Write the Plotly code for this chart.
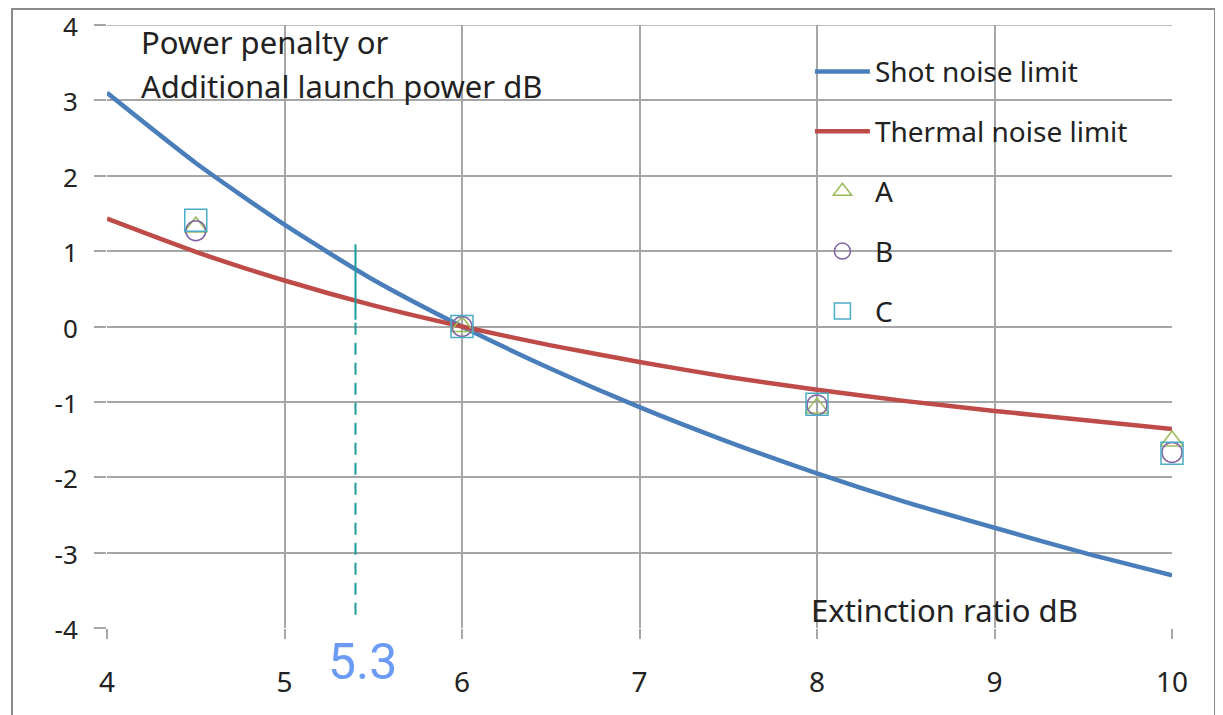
import plotly.graph_objects as go

# ---- data ----
x_curve = [4, 4.5, 5, 5.5, 6, 6.5, 7, 7.5, 8, 8.5, 9, 9.5, 10]
shot_noise = [3.10, 2.17, 1.35, 0.62, 0.0, -0.56, -1.07, -1.53, -1.95, -2.33, -2.67, -3.00, -3.30]
thermal_noise = [1.43, 0.99, 0.61, 0.28, 0.0, -0.25, -0.47, -0.67, -0.84, -0.99, -1.12, -1.24, -1.36]

x_meas = [4.5, 6, 8, 10]
meas_A = [1.32, 0.0, -1.08, -1.52]
meas_B = [1.27, 0.0, -1.04, -1.67]
meas_C = [1.41, 0.0, -1.03, -1.68]

marker_x = 5.4
marker_solid_y = [1.09, 0.09]
marker_dash_y = [0.05, -3.88]
marker_label = "5.3"

x_range = [4, 10]
y_range = [-4, 4]
x_ticks = [4, 5, 6, 7, 8, 9, 10]
x_ticktext = ["4", "5", "6", "7", "8", "9", "10"]
y_ticks = [-4, -3, -2, -1, 0, 1, 2, 3, 4]
y_ticktext = ["-4", "-3", "-2", "-1", "0", "1", "2", "3", "4"]

FONT = "Noto Sans"
GRID = "#a6a6a6"
TXT = "#222222"

fig = go.Figure()
fig.add_trace(go.Scatter(x=x_curve, y=shot_noise, mode="lines", name="Shot noise limit",
                         line=dict(color="#4a7ebb", width=4.5, shape="spline", smoothing=0.6),
                         legendgroup="g1"))
fig.add_trace(go.Scatter(x=x_curve, y=thermal_noise, mode="lines", name="Thermal noise limit",
                         line=dict(color="#be4b48", width=4.5, shape="spline", smoothing=0.6),
                         legendgroup="g2"))
fig.add_trace(go.Scatter(x=x_meas, y=meas_A, mode="markers", name="A", cliponaxis=False,
                         marker=dict(symbol="triangle-up-open", size=20, color="#9bbb59",
                                     line=dict(width=1.5)), legendgroup="g3"))
fig.add_trace(go.Scatter(x=x_meas, y=meas_B, mode="markers", name="B", cliponaxis=False,
                         marker=dict(symbol="circle-open", size=20, color="#8064a2",
                                     line=dict(width=1.5)), legendgroup="g4"))
fig.add_trace(go.Scatter(x=x_meas, y=meas_C, mode="markers", name="C", cliponaxis=False,
                         marker=dict(symbol="square-open", size=22, color="#4bacc6",
                                     line=dict(width=1.5)), legendgroup="g5"))
fig.add_trace(go.Scatter(x=[marker_x, marker_x], y=marker_solid_y, mode="lines",
                         line=dict(color="#1a9a9a", width=2), showlegend=False, hoverinfo="skip"))
fig.add_trace(go.Scatter(x=[marker_x, marker_x], y=marker_dash_y, mode="lines",
                         line=dict(color="#1a9a9a", width=2, dash="12px,8px"),
                         showlegend=False, hoverinfo="skip"))

fig.update_xaxes(range=x_range, tickvals=x_ticks, ticktext=x_ticktext, showgrid=True,
                 gridcolor=GRID, gridwidth=1.5, zeroline=False, showline=False,
                 ticks="outside", ticklen=10, tickcolor=GRID, tickwidth=1.5,
                 ticklabelstandoff=19, ticklabeloverflow="allow", automargin=False,
                 tickfont=dict(family=FONT, size=28, color=TXT))
fig.update_yaxes(range=y_range, tickvals=y_ticks, ticktext=y_ticktext, showgrid=True,
                 gridcolor=GRID, gridwidth=1.5, zeroline=False, showline=False,
                 ticks="outside", ticklen=12, tickcolor=GRID, tickwidth=1.5,
                 ticklabelstandoff=11, ticklabelshift=2, ticklabeloverflow="allow",
                 automargin=False, tickfont=dict(family=FONT, size=26, color=TXT))

# top gridline (at the upper edge of the plot area)
fig.add_shape(type="line", xref="x", yref="y", x0=x_range[0], x1=x_range[1],
              y0=y_range[1], y1=y_range[1], line=dict(color=GRID, width=1.5), layer="above")

fig.add_annotation(text="Power penalty or", xref="paper", yref="paper", x=0.030, y=0.972,
                   xanchor="left", yanchor="middle", showarrow=False,
                   font=dict(family=FONT, size=31, color=TXT))
fig.add_annotation(text="Additional launch power dB", xref="paper", yref="paper", x=0.030, y=0.899,
                   xanchor="left", yanchor="middle", showarrow=False,
                   font=dict(family=FONT, size=31, color=TXT))
fig.add_annotation(text="Extinction ratio dB", xref="paper", yref="paper", x=0.659, y=0.03,
                   xanchor="left", yanchor="middle", showarrow=False,
                   font=dict(family=FONT, size=31, color=TXT))
fig.add_annotation(text=marker_label, xref="x", yref="paper", x=5.44, y=-0.056,
                   xanchor="center", yanchor="middle", showarrow=False,
                   font=dict(family="Roboto", size=50, color="#6b9bf5"))

# outer chart border
fig.add_shape(type="rect", xref="paper", yref="paper", x0=-0.0892, x1=1.0404, y0=-0.2, y1=1.0265,
              line=dict(color="#8a8a8a", width=2), layer="below")

fig.update_layout(
    width=1215, height=707,
    margin=dict(l=99, r=51, t=17, b=87, autoexpand=False),
    paper_bgcolor="white", plot_bgcolor="white",
    showlegend=True,
    legend=dict(x=0.660, y=0.964, xanchor="left", yanchor="top", bgcolor="rgba(0,0,0,0)",
                font=dict(family=FONT, size=28, color=TXT), itemwidth=55,
                tracegroupgap=20.5, traceorder="grouped"),
)

fig.write_html("out.html")
